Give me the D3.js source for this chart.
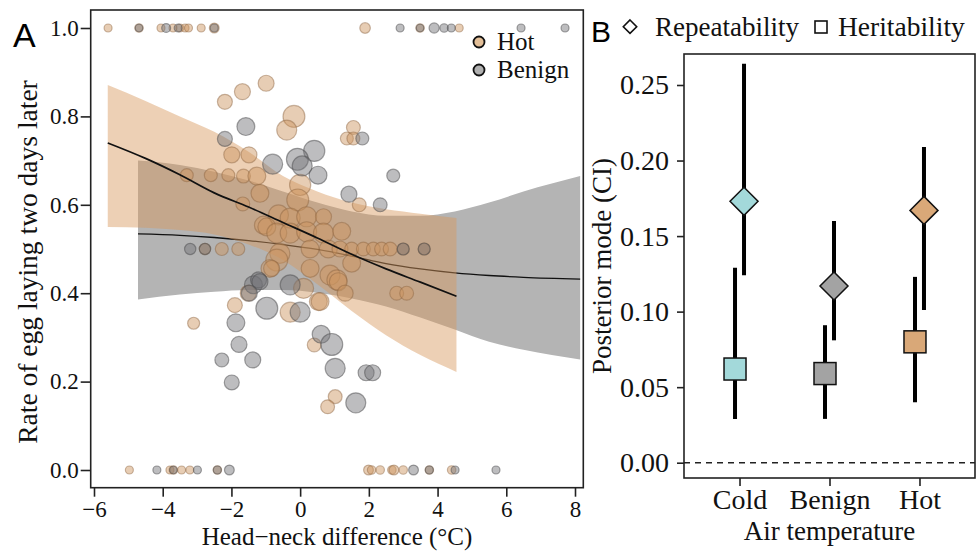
<!DOCTYPE html>
<html><head><meta charset="utf-8">
<script src="https://cdn.jsdelivr.net/npm/d3@7"></script>
<style>body{margin:0;background:#fff}svg{display:block}</style>
</head><body>
<svg id="c" width="976" height="551"></svg>
<script>
// ---------- DATA ----------
// Panel A: individual points (x = head-neck difference, y = rate, n = sample size)
const hotPoints = [
  {x:-5.59,y:1,n:4},{x:-4.69,y:1,n:4.5},{x:-4.05,y:1,n:4},{x:-3.7,y:1,n:4},{x:-3.5,y:1,n:4},
  {x:-3.35,y:1,n:4},{x:-3.25,y:1,n:4},{x:-2.88,y:1,n:4},{x:-2.5,y:1,n:6},{x:1.89,y:1,n:7},
  {x:3.49,y:1,n:4.5},{x:4.63,y:1,n:4},
  {x:-4.97,y:0,n:4},{x:-3.79,y:0,n:4},{x:-3.69,y:0,n:4.5},{x:-3.45,y:0,n:4},{x:-3.21,y:0,n:4},
  {x:-2.41,y:0,n:4.5},{x:1.99,y:0,n:6},{x:2.08,y:0,n:4.5},{x:2.33,y:0,n:4.5},{x:2.67,y:0,n:4.5},
  {x:2.73,y:0,n:6},{x:3.0,y:0,n:4.5},{x:3.76,y:0,n:4.5},{x:4.41,y:0,n:4.5},
  {x:-0.99,y:0.875,n:16},{x:-1.68,y:0.856,n:16},{x:-2.19,y:0.833,n:14},{x:-0.18,y:0.80,n:30},
  {x:-0.39,y:0.769,n:25},{x:1.55,y:0.775,n:12},{x:1.36,y:0.75,n:10.5},{x:1.55,y:0.75,n:10.5},
  {x:-1.99,y:0.713,n:16},{x:-1.49,y:0.713,n:16},{x:0.0,y:0.645,n:28},{x:-0.07,y:0.611,n:30},
  {x:-3.3,y:0.667,n:10.5},{x:-2.6,y:0.667,n:10.5},{x:-2.09,y:0.667,n:10.5},{x:-1.65,y:0.665,n:12},
  {x:-1.26,y:0.665,n:20},{x:-1.17,y:0.626,n:20},{x:-1.67,y:0.602,n:12},{x:1.72,y:0.60,n:12},
  {x:-0.63,y:0.577,n:25},{x:-0.29,y:0.57,n:25},{x:0.19,y:0.573,n:25},{x:0.68,y:0.573,n:16},
  {x:-1.07,y:0.554,n:20},{x:-0.97,y:0.55,n:20},{x:-0.68,y:0.536,n:25},{x:-0.29,y:0.536,n:25},
  {x:0.19,y:0.539,n:25},{x:0.68,y:0.536,n:25},{x:1.21,y:0.54,n:20},{x:-0.59,y:0.49,n:25},
  {x:-0.68,y:0.475,n:30},{x:-2.77,y:0.5,n:8},{x:-2.28,y:0.5,n:10.5},{x:-1.8,y:0.5,n:10.5},
  {x:0.29,y:0.5,n:20},{x:0.82,y:0.5,n:20},{x:1.16,y:0.5,n:16},{x:1.5,y:0.5,n:12},
  {x:1.84,y:0.5,n:12},{x:2.13,y:0.5,n:12},{x:2.37,y:0.5,n:12},{x:2.62,y:0.5,n:12},
  {x:3.0,y:0.5,n:9},{x:3.61,y:0.5,n:9},{x:-0.88,y:0.456,n:20},{x:0.29,y:0.456,n:20},
  {x:-0.83,y:0.456,n:16},{x:1.5,y:0.468,n:20},{x:0.87,y:0.441,n:25},{x:1.07,y:0.43,n:25},
  {x:1.11,y:0.426,n:20},{x:0.1,y:0.411,n:25},{x:1.31,y:0.40,n:16},{x:0.53,y:0.381,n:20},
  {x:0.58,y:0.381,n:20},{x:-1.9,y:0.373,n:14},{x:-0.29,y:0.357,n:25},{x:2.81,y:0.40,n:12},
  {x:3.1,y:0.40,n:12},{x:-3.1,y:0.332,n:9},{x:0.41,y:0.283,n:12},{x:1.02,y:0.166,n:12},
  {x:0.8,y:0.143,n:12},{x:-1.51,y:0.40,n:16}
];
const benignPoints = [
  {x:-4.69,y:1,n:3.5},{x:-3.9,y:1,n:5},{x:-3.55,y:1,n:4},{x:-2.5,y:1,n:4},{x:2.91,y:1,n:4},
  {x:3.49,y:1,n:3.5},{x:3.9,y:1,n:6.5},{x:4.19,y:1,n:4.5},{x:4.4,y:1,n:4},{x:6.43,y:1,n:4},
  {x:7.71,y:1,n:4},
  {x:-4.17,y:0,n:4},{x:-3.69,y:0,n:3.5},{x:-2.99,y:0,n:4},{x:-2.41,y:0,n:4},{x:-2.06,y:0,n:6},
  {x:3.3,y:0,n:6},{x:3.76,y:0,n:4},{x:4.51,y:0,n:4},{x:5.7,y:0,n:4},
  {x:-1.58,y:0.777,n:20},{x:-2.19,y:0.749,n:14},{x:0.41,y:0.722,n:28},{x:-0.08,y:0.703,n:30},
  {x:-0.8,y:0.692,n:25},{x:0.06,y:0.688,n:25},{x:0.52,y:0.667,n:20},{x:2.71,y:0.666,n:10.5},
  {x:1.42,y:0.624,n:16},{x:2.33,y:0.60,n:12},{x:1.81,y:0.75,n:10.5},{x:-3.2,y:0.5,n:8},
  {x:-2.77,y:0.5,n:8},{x:-1.36,y:0.419,n:20},{x:-1.21,y:0.43,n:16},{x:-1.17,y:0.426,n:16},
  {x:-0.29,y:0.419,n:25},{x:-1.48,y:0.40,n:16},{x:-0.97,y:0.366,n:30},{x:0.0,y:0.357,n:25},
  {x:-1.87,y:0.333,n:20},{x:-1.78,y:0.284,n:16},{x:-2.28,y:0.249,n:12},{x:-1.38,y:0.249,n:16},
  {x:-1.99,y:0.198,n:14},{x:0.61,y:0.307,n:20},{x:0.92,y:0.284,n:30},{x:1.02,y:0.23,n:25},
  {x:1.92,y:0.22,n:16},{x:2.11,y:0.22,n:16},{x:1.62,y:0.152,n:25},{x:3.0,y:0.5,n:9},{x:3.61,y:0.5,n:9}
];
// Panel A: fitted curves with confidence bands
const hotCurveX = [-5.6,-4.5,-3.5,-2.5,-1.5,-0.5,0.5,1.5,2.5,3.5,4.55];
const hotFit    = [0.740,0.705,0.668,0.627,0.595,0.560,0.525,0.488,0.455,0.425,0.393];
const hotHi     = [0.871,0.835,0.800,0.765,0.720,0.665,0.630,0.605,0.590,0.580,0.570];
const hotLo     = [0.550,0.548,0.543,0.533,0.510,0.475,0.420,0.360,0.305,0.260,0.222];
const benignCurveX = [-4.72,-3.5,-2.5,-1.5,-0.5,0.5,1.5,2.5,3.5,4.5,5.5,6.5,8.15];
const benignFit    = [0.534,0.531,0.526,0.519,0.510,0.499,0.484,0.467,0.455,0.446,0.440,0.436,0.432];
const benignHi     = [0.700,0.690,0.675,0.655,0.630,0.605,0.585,0.575,0.575,0.585,0.605,0.630,0.665];
const benignLo     = [0.386,0.397,0.403,0.407,0.407,0.401,0.388,0.370,0.345,0.318,0.290,0.272,0.250];
const xTicksA = [-6,-4,-2,0,2,4,6,8];
const yTicksA = [0,0.2,0.4,0.6,0.8,1.0];
const groupsA = ["Hot","Benign"];

// Panel B
const categories = ["Cold","Benign","Hot"];
const repeatMode = [0.173,0.117,0.167];
const repeatLo   = [0.124,0.081,0.101];
const repeatHi   = [0.264,0.160,0.209];
const heritMode  = [0.062,0.059,0.080];
const heritLo    = [0.029,0.029,0.040];
const heritHi    = [0.129,0.091,0.123];
const catColors  = ["#a3d9da","#a3a3a3","#d9a878"];
const yTicksB = [0,0.05,0.10,0.15,0.20,0.25];

// ---------- DRAW ----------
const svg = d3.select("#c");
const serif = "'Liberation Serif','Times New Roman',serif";
const sans = "'Liberation Sans',Arial,sans-serif";
const hotFill = "rgba(205,148,95,0.47)", hotStroke = "rgba(140,100,65,0.45)";
const benFill = "rgba(115,115,118,0.47)", benStroke = "rgba(75,75,78,0.5)";

// Panel A
const A = {l:90.7, r:583.3, t:10, b:487.7};
const x = d3.scaleLinear().domain([-6,8]).range([94,575]);
const y = d3.scaleLinear().domain([0,1]).range([470,28]);
const rScale = d3.scaleSqrt().domain([0,36]).range([0,12]);

svg.append("clipPath").attr("id","clipA").append("rect")
  .attr("x",A.l).attr("y",A.t).attr("width",A.r-A.l).attr("height",A.b-A.t);
const gA = svg.append("g").attr("clip-path","url(#clipA)");

const band = (xs, lo, hi) => d3.area().curve(d3.curveMonotoneX)
  .x((d,i)=>x(xs[i])).y0((d,i)=>y(lo[i])).y1((d,i)=>y(hi[i]))(xs);
const line = (xs, ys) => d3.line().curve(d3.curveMonotoneX)
  .x((d,i)=>x(xs[i])).y((d,i)=>y(ys[i]))(xs);

gA.append("path").attr("d", band(benignCurveX, benignLo, benignHi)).attr("fill","#b4b4b4");
gA.append("path").attr("d", line(benignCurveX, benignFit)).attr("fill","none").attr("stroke","#111").attr("stroke-width",1.3);
gA.append("path").attr("d", band(hotCurveX, hotLo, hotHi)).attr("fill","rgb(215,150,90)").attr("fill-opacity",0.45);

gA.selectAll("circle.hot").data(hotPoints).join("circle").attr("class","hot")
  .attr("cx",d=>x(d.x)).attr("cy",d=>y(d.y)).attr("r",d=>rScale(d.n))
  .attr("fill",hotFill).attr("stroke",hotStroke).attr("stroke-width",1.2);
gA.selectAll("circle.ben").data(benignPoints).join("circle").attr("class","ben")
  .attr("cx",d=>x(d.x)).attr("cy",d=>y(d.y)).attr("r",d=>rScale(d.n))
  .attr("fill",benFill).attr("stroke",benStroke).attr("stroke-width",1.2);

gA.append("path").attr("d", line(hotCurveX, hotFit)).attr("fill","none").attr("stroke","#111").attr("stroke-width",1.7);

// frame + axes
svg.append("rect").attr("x",A.l).attr("y",A.t).attr("width",A.r-A.l).attr("height",A.b-A.t)
  .attr("fill","none").attr("stroke","#222").attr("stroke-width",1.6);
const axA = svg.append("g").attr("transform",`translate(0,${A.b})`)
  .call(d3.axisBottom(x).tickValues(xTicksA).tickSize(9).tickPadding(4).tickFormat(d3.format("d")));
const ayA = svg.append("g").attr("transform",`translate(${A.l},0)`)
  .call(d3.axisLeft(y).tickValues(yTicksA).tickSize(10).tickPadding(2).tickFormat(d3.format(".1f")));
[axA, ayA].forEach(g=>{
  g.select(".domain").remove();
  g.selectAll("line").attr("stroke","#222").attr("stroke-width",1.6);
  g.selectAll("text").attr("font-family",serif).attr("font-size",23).attr("fill","#111");
});
svg.append("text").attr("x",(A.l+A.r)/2).attr("y",545).attr("text-anchor","middle")
  .attr("font-family",serif).attr("font-size",25).attr("fill","#111").text("Head−neck difference (°C)");
svg.append("text").attr("transform","translate(37,262) rotate(-90)").attr("text-anchor","middle")
  .attr("font-family",serif).attr("font-size",27.5).attr("fill","#111").text("Rate of egg laying two days later");
svg.append("text").attr("x",13).attr("y",47).attr("font-family",sans).attr("font-size",34).attr("fill","#000").text("A");

// legend A
const legA = svg.append("g");
groupsA.forEach((g,i)=>{
  const cy = 42 + i*28;
  legA.append("circle").attr("cx",479).attr("cy",cy).attr("r",5.5)
    .attr("fill", i===0 ? "#e3bf98" : "#b0b0b0").attr("stroke","#111").attr("stroke-width",1.8);
  legA.append("text").attr("x",497).attr("y",cy+8).attr("font-family",serif).attr("font-size",25)
    .attr("fill","#111").text(g);
});

// Panel B
const B = {l:684, r:975, t:54, b:478};
const xb = d3.scalePoint().domain(categories).range([B.l,B.r]).padding(0.617);
const yb = d3.scaleLinear().domain([0,0.25]).range([462.7,85]);
const off = 4.5;

svg.append("line").attr("x1",B.l).attr("x2",B.r).attr("y1",yb(0)).attr("y2",yb(0))
  .attr("stroke","#222").attr("stroke-width",1.4).attr("stroke-dasharray","6,5");

const gB = svg.append("g");
categories.forEach((c,i)=>{
  const cx = xb(c);
  gB.append("line").attr("x1",cx+off).attr("x2",cx+off).attr("y1",yb(repeatLo[i])).attr("y2",yb(repeatHi[i]))
    .attr("stroke","#000").attr("stroke-width",4);
  gB.append("line").attr("x1",cx-off).attr("x2",cx-off).attr("y1",yb(heritLo[i])).attr("y2",yb(heritHi[i]))
    .attr("stroke","#000").attr("stroke-width",4);
});
categories.forEach((c,i)=>{
  const cx = xb(c);
  const h = 14, s = 11;
  gB.append("path").attr("d",`M${cx+off},${yb(repeatMode[i])-h}L${cx+off+h},${yb(repeatMode[i])}L${cx+off},${yb(repeatMode[i])+h}L${cx+off-h},${yb(repeatMode[i])}Z`)
    .attr("fill",catColors[i]).attr("stroke","#111").attr("stroke-width",1.5);
  gB.append("rect").attr("x",cx-off-s).attr("y",yb(heritMode[i])-s).attr("width",2*s).attr("height",2*s)
    .attr("fill",catColors[i]).attr("stroke","#111").attr("stroke-width",1.5);
});

svg.append("rect").attr("x",B.l).attr("y",B.t).attr("width",B.r-B.l).attr("height",B.b-B.t)
  .attr("fill","none").attr("stroke","#222").attr("stroke-width",1.6);
const axB = svg.append("g").attr("transform",`translate(0,${B.b})`)
  .call(d3.axisBottom(xb).tickSize(8).tickPadding(3));
const ayB = svg.append("g").attr("transform",`translate(${B.l},0)`)
  .call(d3.axisLeft(yb).tickValues(yTicksB).tickSize(7).tickPadding(8).tickFormat(d3.format(".2f")));
[axB, ayB].forEach(g=>{
  g.select(".domain").remove();
  g.selectAll("line").attr("stroke","#222").attr("stroke-width",1.6);
  g.selectAll("text").attr("font-family",serif).attr("font-size",28).attr("fill","#111");
});
svg.append("text").attr("x",(B.l+B.r)/2).attr("y",540).attr("text-anchor","middle")
  .attr("font-family",serif).attr("font-size",27).attr("fill","#111").text("Air temperature");
svg.append("text").attr("transform",`translate(611,${(B.t+B.b)/2}) rotate(-90)`).attr("text-anchor","middle")
  .attr("font-family",serif).attr("font-size",27).attr("fill","#111").text("Posterior mode (CI)");
svg.append("text").attr("x",591).attr("y",42).attr("font-family",sans).attr("font-size",30).attr("fill","#000").text("B");

// legend B
const lg = svg.append("g");
lg.append("path").attr("d","M630,20L636.7,26.7L630,33.4L623.3,26.7Z").attr("fill","none").attr("stroke","#111").attr("stroke-width",1.6);
lg.append("text").attr("x",655).attr("y",36).attr("font-family",serif).attr("font-size",27).attr("fill","#111").text("Repeatability");
lg.append("rect").attr("x",815).attr("y",21).attr("width",12).attr("height",12).attr("fill","none").attr("stroke","#111").attr("stroke-width",1.6);
lg.append("text").attr("x",838).attr("y",36).attr("font-family",serif).attr("font-size",27.5).attr("fill","#111").text("Heritability");
</script>
</body></html>
